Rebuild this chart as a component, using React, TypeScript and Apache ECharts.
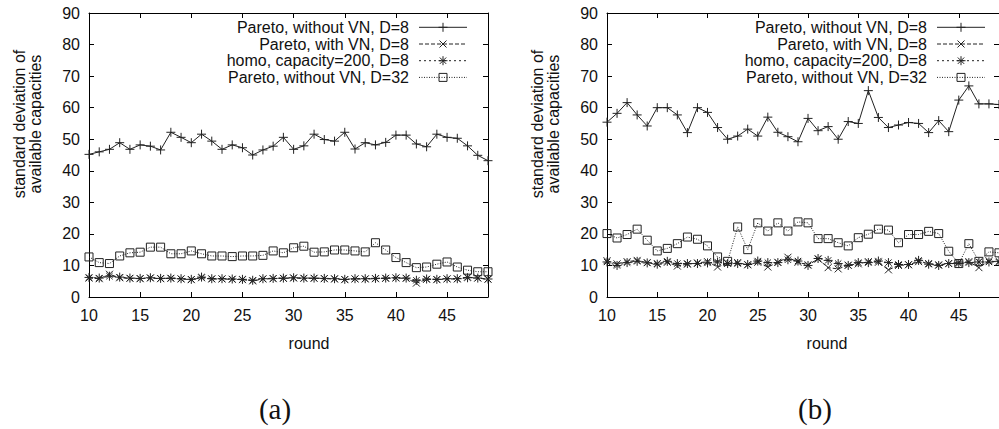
import React, { useEffect, useRef } from "react";
import * as echarts from "echarts";

// ---------------- data ----------------
const rounds = [10, 11, 12, 13, 14, 15, 16, 17, 18, 19, 20, 21, 22, 23, 24, 25, 26, 27, 28, 29,
  30, 31, 32, 33, 34, 35, 36, 37, 38, 39, 40, 41, 42, 43, 44, 45, 46, 47, 48, 49];

const seriesNames = [
  "Pareto, without VN, D=8",
  "Pareto, with VN, D=8",
  "homo, capacity=200, D=8",
  "Pareto, without VN, D=32",
];

// panel (a)
const aWithoutVN8 = [45.2, 46.0, 46.8, 48.9, 46.8, 48.2, 47.8, 46.6, 52.2, 50.6, 48.9, 51.6, 49.4, 46.8, 48.2, 47.3, 45.0, 46.6, 47.8, 50.6,
  46.8, 47.9, 51.6, 49.9, 49.4, 52.2, 46.9, 48.9, 48.2, 49.0, 51.3, 51.3, 48.5, 47.6, 51.6, 50.6, 50.3, 47.9, 44.9, 43.2];
const aWithVN8 = [6.0, 5.8, 7.2, 6.1, 5.9, 5.8, 6.0, 5.8, 5.9, 5.7, 5.5, 6.1, 5.7, 5.7, 5.6, 5.5, 5.1, 5.7, 5.8, 5.9,
  6.0, 5.9, 5.9, 5.8, 5.7, 5.5, 5.7, 5.7, 5.8, 5.9, 6.0, 5.9, 4.4, 5.6, 5.5, 5.7, 5.7, 6.3, 6.0, 5.6];
const aHomo8 = [6.2, 6.0, 6.6, 6.3, 6.0, 5.9, 6.1, 5.9, 6.0, 5.8, 5.6, 6.3, 5.8, 5.8, 5.7, 5.6, 5.3, 5.8, 5.9, 6.0,
  6.1, 6.0, 6.0, 5.9, 5.8, 5.6, 5.8, 5.8, 5.9, 6.0, 6.1, 6.0, 5.3, 5.7, 5.6, 5.8, 5.8, 6.1, 6.0, 5.7];
const aWithoutVN32 = [12.7, 10.9, 10.6, 13.0, 14.0, 14.2, 15.8, 15.8, 13.7, 13.7, 14.6, 13.7, 13.0, 13.0, 12.8, 13.0, 13.0, 13.2, 14.6, 14.0,
  15.6, 16.1, 14.2, 14.3, 14.9, 14.9, 14.6, 14.3, 17.2, 14.9, 12.5, 10.9, 9.3, 9.5, 10.4, 11.1, 9.5, 8.5, 8.0, 8.0];

// panel (b)
const bWithoutVN8 = [55.4, 58.2, 61.6, 57.7, 54.2, 60.0, 60.0, 57.7, 52.1, 60.0, 58.5, 53.7, 50.0, 51.0, 53.2, 51.0, 57.0, 52.2, 50.8, 49.2,
  56.6, 52.7, 54.0, 50.0, 55.6, 55.0, 65.4, 56.9, 53.7, 54.5, 55.3, 55.0, 52.1, 55.9, 52.4, 62.4, 66.9, 61.2, 61.2, 61.0];
const bWithVN8 = [11.5, 10.5, 11.2, 11.6, 10.9, 10.6, 11.0, 9.8, 10.4, 10.8, 11.2, 9.5, 10.7, 10.9, 10.2, 11.0, 9.5, 11.0, 12.6, 11.0,
  10.2, 12.0, 9.3, 8.9, 10.1, 10.5, 11.2, 11.0, 8.6, 10.0, 10.2, 11.2, 10.6, 10.2, 10.6, 11.0, 11.2, 9.3, 11.5, 11.0];
const bHomo8 = [11.1, 10.0, 10.9, 11.3, 10.8, 10.4, 11.3, 10.6, 10.6, 10.6, 10.8, 11.1, 10.6, 10.6, 10.3, 11.4, 10.9, 10.9, 11.8, 11.4,
  10.0, 12.2, 11.6, 10.6, 10.0, 10.9, 10.9, 11.4, 10.9, 10.3, 10.3, 11.6, 10.4, 10.0, 10.6, 10.6, 10.9, 11.1, 11.1, 11.3];
const bWithoutVN32 = [20.1, 18.7, 19.8, 21.5, 18.0, 14.6, 15.4, 16.9, 19.0, 18.3, 16.2, 12.7, 11.3, 22.2, 15.0, 23.5, 20.9, 23.5, 20.9, 23.8,
  23.5, 18.5, 18.5, 17.2, 16.2, 18.8, 19.9, 21.5, 21.2, 17.2, 19.8, 19.8, 20.8, 20.1, 14.5, 10.6, 16.9, 11.3, 14.3, 14.0];

const panelA = [aWithoutVN8, aWithVN8, aHomo8, aWithoutVN32];
const panelB = [bWithoutVN8, bWithVN8, bHomo8, bWithoutVN32];

const xMin = 10;
const xMax = 49;
const xStep = 5;
const yMin = 0;
const yMax = 90;
const yStep = 10;

const panelLabels = ["(a)", "(b)"];
const xTitle = "round";
const yTitleLines = ["standard deviation of", "available capacities"];

// ---------------- styling ----------------
const SANS = "'Liberation Sans', Arial, Helvetica, sans-serif";
const SERIF = "'Liberation Serif', 'Times New Roman', serif";
const INK = "#111";
const LINE = "#222";

const markStyles = [
  { symbol: "path://M0,5L10,5M5,0L5,10", size: 9, dash: "solid" as any, fill: LINE },
  { symbol: "path://M0,0L10,10M0,10L10,0", size: 7, dash: [4, 2] as any, fill: LINE },
  { symbol: "path://M0,5L10,5M5,0L5,10M1.5,1.5L8.5,8.5M1.5,8.5L8.5,1.5", size: 9, dash: [2, 3] as any, fill: LINE },
  { symbol: "path://M0,0L10,0L10,10L0,10Z", size: 8, dash: [1, 1.5] as any, fill: "rgba(255,255,255,0)" },
];

const grids = [
  { left: 89, top: 13, width: 399, height: 284 },
  { left: 607, top: 13, width: 396, height: 284 },
];

function legendGlyph(kind: number, cx: number, cy: number): any[] {
  const st = { stroke: LINE, lineWidth: 1 };
  const ln = (x1: number, y1: number, x2: number, y2: number) => ({
    type: "line", shape: { x1, y1, x2, y2 }, style: st, z: 20,
  });
  if (kind === 0) return [ln(cx - 4.5, cy, cx + 4.5, cy), ln(cx, cy - 4.5, cx, cy + 4.5)];
  if (kind === 1) return [ln(cx - 3.5, cy - 3.5, cx + 3.5, cy + 3.5), ln(cx - 3.5, cy + 3.5, cx + 3.5, cy - 3.5)];
  if (kind === 2)
    return [
      ln(cx - 4.5, cy, cx + 4.5, cy), ln(cx, cy - 4.5, cx, cy + 4.5),
      ln(cx - 3.2, cy - 3.2, cx + 3.2, cy + 3.2), ln(cx - 3.2, cy + 3.2, cx + 3.2, cy - 3.2),
    ];
  return [{ type: "rect", shape: { x: cx - 4, y: cy - 4, width: 8, height: 8 }, style: { stroke: LINE, fill: "rgba(255,255,255,0)", lineWidth: 1 }, z: 20 }];
}

function panelGraphics(gi: number): any[] {
  const g = grids[gi];
  const out: any[] = [];
  seriesNames.forEach((name, i) => {
    const y = 27.3 + i * 16.7;
    out.push({
      type: "text", x: g.left + 320, y, z: 20,
      style: { text: name, fontSize: 16, fontFamily: SANS, fill: INK, align: "right", verticalAlign: "middle" },
    });
    out.push({
      type: "line", z: 19,
      shape: { x1: g.left + 330, y1: y, x2: g.left + 378, y2: y },
      style: { stroke: LINE, lineWidth: 1, lineDash: markStyles[i].dash === "solid" ? null : markStyles[i].dash },
    });
    out.push(...legendGlyph(i, g.left + 354, y));
  });
  out.push({
    type: "text", x: g.left - 70, y: 124, rotation: Math.PI / 2,
    style: { text: yTitleLines[0], fontSize: 16, fontFamily: SANS, fill: INK, align: "center", verticalAlign: "middle" },
  });
  out.push({
    type: "text", x: g.left - 54, y: 124, rotation: Math.PI / 2,
    style: { text: yTitleLines[1], fontSize: 16, fontFamily: SANS, fill: INK, align: "center", verticalAlign: "middle" },
  });
  out.push({
    type: "text", x: g.left + 220, y: 343,
    style: { text: xTitle, fontSize: 16, fontFamily: SANS, fill: INK, align: "center", verticalAlign: "middle" },
  });
  out.push({
    type: "text", x: g.left + 186 + gi * 22, y: 409,
    style: { text: panelLabels[gi], fontSize: 29, fontFamily: SERIF, fill: INK, align: "center", verticalAlign: "middle" },
  });
  return out;
}

function xAxisCfg(gridIndex: number, position: string, labels: boolean) {
  return {
    type: "value", gridIndex, position, min: xMin, max: xMax, interval: xStep,
    axisLine: { show: true, onZero: false, lineStyle: { color: "#000", width: 1 } },
    axisTick: { show: true, inside: true, length: 5, lineStyle: { color: "#000", width: 1 } },
    axisLabel: { show: labels, margin: 10, fontSize: 16, fontFamily: SANS, color: INK, showMinLabel: true, showMaxLabel: false },
    splitLine: { show: false },
  };
}

function yAxisCfg(gridIndex: number, position: string, labels: boolean) {
  return {
    type: "value", gridIndex, position, min: yMin, max: yMax, interval: yStep,
    axisLine: { show: true, onZero: false, lineStyle: { color: "#000", width: 1 } },
    axisTick: { show: true, inside: true, length: 5, lineStyle: { color: "#000", width: 1 } },
    axisLabel: { show: labels, margin: 9, fontSize: 16, fontFamily: SANS, color: INK },
    splitLine: { show: false },
  };
}

function buildSeries(panel: number[][], gi: number): any[] {
  return panel.map((vals, i) => ({
    type: "line",
    name: seriesNames[i],
    xAxisIndex: gi * 2,
    yAxisIndex: gi * 2,
    data: rounds.map((r, k) => [r, vals[k]]),
    symbol: markStyles[i].symbol,
    symbolSize: markStyles[i].size,
    showSymbol: true,
    lineStyle: { color: LINE, width: 1, type: markStyles[i].dash },
    itemStyle: { color: markStyles[i].fill, borderColor: LINE, borderWidth: 1 },
    emphasis: { disabled: true },
    z: 2 + i,
  }));
}

export default function App() {
  const ref = useRef<HTMLDivElement>(null);
  useEffect(() => {
    if (!ref.current) return;
    const chart = echarts.init(ref.current, undefined, { renderer: "svg" });
    chart.setOption({
      animation: false,
      backgroundColor: "#fff",
      grid: grids.map((g) => ({ ...g, containLabel: false })),
      xAxis: [xAxisCfg(0, "bottom", true), xAxisCfg(0, "top", false), xAxisCfg(1, "bottom", true), xAxisCfg(1, "top", false)],
      yAxis: [yAxisCfg(0, "left", true), yAxisCfg(0, "right", false), yAxisCfg(1, "left", true), yAxisCfg(1, "right", false)],
      series: [...buildSeries(panelA, 0), ...buildSeries(panelB, 1)],
      graphic: { elements: [...panelGraphics(0), ...panelGraphics(1)] },
    });
    return () => chart.dispose();
  }, []);
  return (
    <div
      ref={ref}
      style={{ position: "fixed", left: 0, top: 0, width: 999, height: 429, background: "#fff" }}
    />
  );
}
